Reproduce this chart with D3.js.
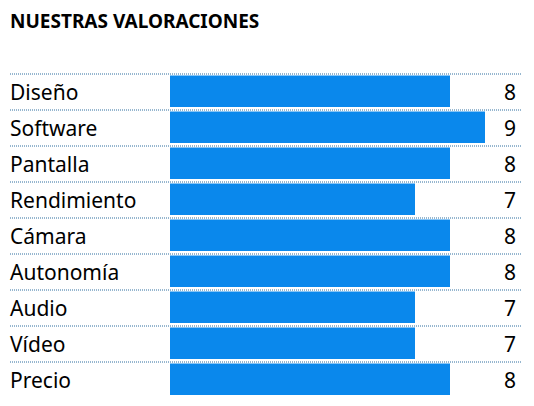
<!DOCTYPE html>
<html><head><meta charset="utf-8">
<script src="https://cdn.jsdelivr.net/npm/d3@7"></script>
<style>body{margin:0;background:#fff}</style></head>
<body><svg id="c" width="534" height="406"></svg>
<script>
const categories=["Diseño","Software","Pantalla","Rendimiento","Cámara","Autonomía","Audio","Vídeo","Precio"];
const values=[8,9,8,7,8,8,7,7,8];
const svg=d3.select("#c");
const font="'Noto Sans', 'Open Sans', sans-serif";
svg.append("text").attr("x",10).attr("y",28).attr("font-family",font).attr("font-weight","bold").attr("font-size",19).text("NUESTRAS VALORACIONES");
const x=d3.scaleLinear().domain([0,10]).range([170,520]);
const y=d3.scaleBand().domain(categories).range([74,398]).paddingInner(0).paddingOuter(0);
categories.forEach((c,i)=>{
  const y0=y(c);
  svg.append("line").attr("x1",10).attr("x2",522).attr("y1",y0).attr("y2",y0)
    .attr("stroke","#2f6f9f").attr("stroke-width",1).attr("stroke-dasharray","1,1");
  svg.append("rect").attr("x",x(0)).attr("y",y0+1.5).attr("width",x(values[i])-x(0)).attr("height",y.bandwidth()-4.5).attr("fill","#0a88ec");
  svg.append("text").attr("x",10).attr("y",y0+y.bandwidth()/2+7.5).attr("font-family",font).attr("font-size",21).text(c);
  svg.append("text").attr("x",516).attr("y",y0+y.bandwidth()/2+7.5).attr("text-anchor","end").attr("font-family",font).attr("font-size",21).text(values[i]);
});
</script></body></html>
